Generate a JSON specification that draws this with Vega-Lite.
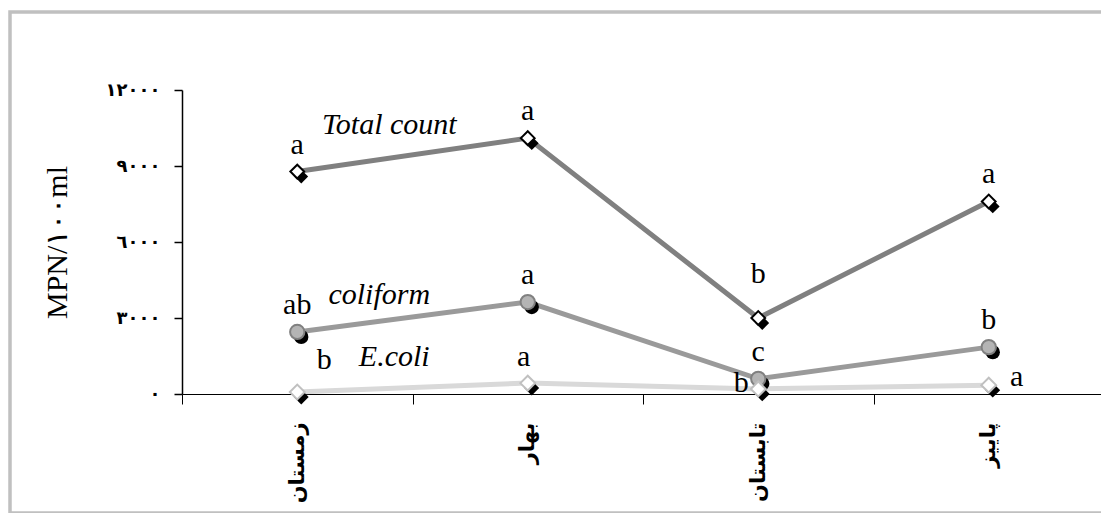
{
  "$schema": "https://vega.github.io/schema/vega-lite/v6.json",
  "autosize": "none",
  "padding": {"left": 10, "top": 12, "right": 0, "bottom": 0},
  "width": 1095,
  "height": 501,
  "background": "white",
  "config": {
    "view": {"stroke": "#c0c0c0", "strokeWidth": 3.5},
    "axis": {"grid": false, "domainColor": "black", "tickColor": "black", "labelColor": "black", "titleColor": "black"}
  },
  "data": {
    "values": [
      {"season": "زمستان", "series": "Total count", "value": 8780, "sig": "a"},
      {"season": "بهار", "series": "Total count", "value": 10100, "sig": "a"},
      {"season": "تابستان", "series": "Total count", "value": 3000, "sig": "b"},
      {"season": "پاییز", "series": "Total count", "value": 7600, "sig": "a"},
      {"season": "زمستان", "series": "coliform", "value": 2450, "sig": "ab"},
      {"season": "بهار", "series": "coliform", "value": 3630, "sig": "a"},
      {"season": "تابستان", "series": "coliform", "value": 600, "sig": "c"},
      {"season": "پاییز", "series": "coliform", "value": 1850, "sig": "b"},
      {"season": "زمستان", "series": "E.coli", "value": 80, "sig": "b"},
      {"season": "بهار", "series": "E.coli", "value": 430, "sig": "a"},
      {"season": "تابستان", "series": "E.coli", "value": 200, "sig": "b"},
      {"season": "پاییز", "series": "E.coli", "value": 350, "sig": "a"}
    ]
  },
  "encoding": {
    "x": {
      "field": "season", "type": "nominal",
      "scale": {"type": "band", "domain": ["زمستان", "بهار", "تابستان", "پاییز"], "range": [172, 1094], "paddingInner": 0, "paddingOuter": 0},
      "axis": {
        "title": null, "offset": -119, "tickBand": "extent", "tickSize": 10, "labelAngle": 270,
        "labelFont": "DejaVu Sans", "labelFontWeight": "bold", "labelFontSize": 21, "labelPadding": 18,
        "domainWidth": 1, "tickWidth": 1
      }
    },
    "y": {
      "field": "value", "type": "quantitative",
      "scale": {"domain": [0, 12000], "range": [382, 78], "nice": false, "zero": true},
      "axis": {
        "title": "MPN/١٠٠ml", "offset": -172, "values": [0, 3000, 6000, 9000, 12000], "tickSize": 8,
        "labelExpr": "datum.value == 0 ? '٠' : datum.value == 3000 ? '٣٠٠٠' : datum.value == 6000 ? '٦٠٠٠' : datum.value == 9000 ? '٩٠٠٠' : '١٢٠٠٠'",
        "labelFont": "DejaVu Sans", "labelFontWeight": "bold", "labelFontSize": 18, "labelPadding": 14,
        "titleFont": "Liberation Serif", "titleFontWeight": "normal", "titleFontSize": 30, "titlePadding": 33,
        "domainWidth": 1.5, "tickWidth": 1.5
      }
    }
  },
  "layer": [
    {
      "mark": {"type": "line", "strokeWidth": 5},
      "encoding": {
        "color": {"field": "series", "type": "nominal", "scale": {"domain": ["Total count", "coliform", "E.coli"], "range": ["#808080", "#9a9a9a", "#d9d9d9"]}, "legend": null}
      }
    },
    {
      "mark": {"type": "point", "filled": true, "color": "black", "opacity": 1, "xOffset": 4, "yOffset": 5},
      "encoding": {
        "shape": {"field": "series", "type": "nominal", "scale": {"domain": ["Total count", "coliform", "E.coli"], "range": ["diamond", "circle", "diamond"]}, "legend": null},
        "size": {"field": "series", "type": "nominal", "scale": {"domain": ["Total count", "coliform", "E.coli"], "range": [190, 220, 170]}, "legend": null}
      }
    },
    {
      "mark": {"type": "point", "filled": false, "opacity": 1, "strokeWidth": 2, "fillOpacity": 1},
      "encoding": {
        "shape": {"field": "series", "type": "nominal", "scale": {"domain": ["Total count", "coliform", "E.coli"], "range": ["diamond", "circle", "diamond"]}, "legend": null},
        "size": {"field": "series", "type": "nominal", "scale": {"domain": ["Total count", "coliform", "E.coli"], "range": [190, 220, 170]}, "legend": null},
        "fill": {"field": "series", "type": "nominal", "scale": {"domain": ["Total count", "coliform", "E.coli"], "range": ["#ffffff", "#b4b4b4", "#ffffff"]}, "legend": null},
        "stroke": {"field": "series", "type": "nominal", "scale": {"domain": ["Total count", "coliform", "E.coli"], "range": ["#000000", "#808080", "#c0c0c0"]}, "legend": null}
      }
    },
    {
      "transform": [{"filter": "datum.series != 'E.coli' && !(datum.series == 'Total count' && datum.season == 'تابستان')"}],
      "mark": {"type": "text", "font": "Liberation Serif", "fontSize": 30, "dy": -27, "baseline": "middle", "color": "black"},
      "encoding": {"text": {"field": "sig"}}
    },
    {
      "transform": [{"filter": "datum.series == 'Total count' && datum.season == 'تابستان'"}],
      "mark": {"type": "text", "font": "Liberation Serif", "fontSize": 30, "dy": -44, "baseline": "middle", "color": "black"},
      "encoding": {"text": {"field": "sig"}}
    },
    {
      "transform": [{"filter": "datum.series == 'E.coli' && datum.season == 'زمستان'"}],
      "mark": {"type": "text", "font": "Liberation Serif", "fontSize": 30, "dx": 27, "dy": -32, "baseline": "middle", "color": "black"},
      "encoding": {"text": {"field": "sig"}}
    },
    {
      "transform": [{"filter": "datum.series == 'E.coli' && datum.season == 'بهار'"}],
      "mark": {"type": "text", "font": "Liberation Serif", "fontSize": 30, "dx": -4, "dy": -26, "baseline": "middle", "color": "black"},
      "encoding": {"text": {"field": "sig"}}
    },
    {
      "transform": [{"filter": "datum.series == 'E.coli' && datum.season == 'تابستان'"}],
      "mark": {"type": "text", "font": "Liberation Serif", "fontSize": 30, "dx": -17, "dy": -6, "baseline": "middle", "color": "black"},
      "encoding": {"text": {"field": "sig"}}
    },
    {
      "transform": [{"filter": "datum.series == 'E.coli' && datum.season == 'پاییز'"}],
      "mark": {"type": "text", "font": "Liberation Serif", "fontSize": 30, "dx": 28, "dy": -8, "baseline": "middle", "color": "black"},
      "encoding": {"text": {"field": "sig"}}
    },
    {
      "transform": [{"filter": "datum.series == 'Total count' && datum.season == 'زمستان'"}],
      "mark": {"type": "text", "font": "Liberation Serif", "fontStyle": "italic", "fontSize": 30, "dx": 92, "baseline": "middle", "color": "black", "text": "Total count"},
      "encoding": {"y": {"datum": 10618}}
    },
    {
      "transform": [{"filter": "datum.series == 'coliform' && datum.season == 'زمستان'"}],
      "mark": {"type": "text", "font": "Liberation Serif", "fontStyle": "italic", "fontSize": 30, "dx": 82, "baseline": "middle", "color": "black", "text": "coliform"},
      "encoding": {"y": {"datum": 3908}}
    },
    {
      "transform": [{"filter": "datum.series == 'E.coli' && datum.season == 'زمستان'"}],
      "mark": {"type": "text", "font": "Liberation Serif", "fontStyle": "italic", "fontSize": 30, "dx": 97, "baseline": "middle", "color": "black", "text": "E.coli"},
      "encoding": {"y": {"datum": 1460}}
    }
  ]
}
